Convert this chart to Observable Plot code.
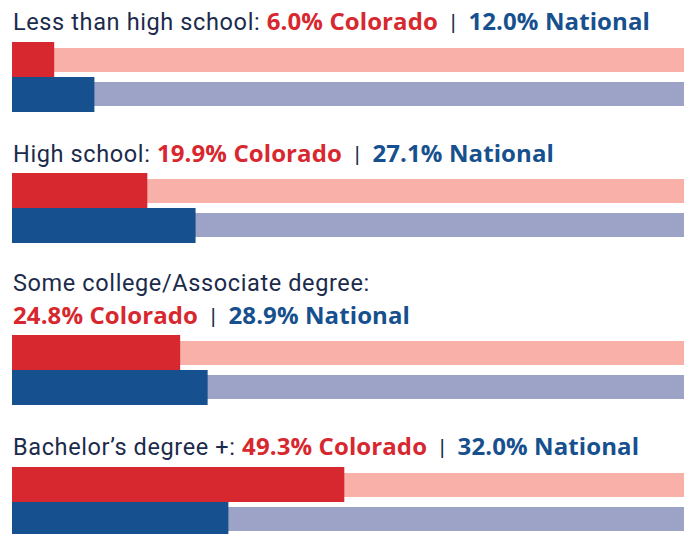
<!DOCTYPE html>
<html>
<head>
<meta charset="utf-8">
<script src="https://cdn.jsdelivr.net/npm/d3@7"></script>
<script src="https://cdn.jsdelivr.net/npm/@observablehq/plot@0.6"></script>
<style>
  html, body { margin: 0; padding: 0; background: #fff; }
  #wrap { position: relative; width: 691px; height: 534px; overflow: hidden; }
  .lbl { position: absolute; left: 13px; width: 678px; font-family: Roboto, sans-serif; font-size: 23.5px; letter-spacing: 0.62px; line-height: 31px; color: #1c2b4b; }
  .val { font-family: "Open Sans", sans-serif; font-weight: 700; font-size: 24px; letter-spacing: 0.1px; white-space: nowrap; }
  .co { color: #d8282f; }
  .na { color: #17508e; }
  .sep { font-family: Roboto, sans-serif; font-weight: 400; font-size: 22px; margin: 0 12.5px; color: #1c2b4b; }
  .chart { position: absolute; left: 0; }
</style>
</head>
<body>
<div id="wrap"></div>
<script>
const categories = ["Less than high school", "High school", "Some college/Associate degree", "Bachelor’s degree +"];
const colorado = [6.0, 19.9, 24.8, 49.3];
const national = [12.0, 27.1, 28.9, 32.0];
const seriesNames = ["Colorado", "National"];

const labelTops = [5, 137, 268, 430];
const chartTops = [42, 173, 335, 467];

const wrap = document.getElementById("wrap");

categories.forEach((cat, i) => {
  const lbl = document.createElement("div");
  lbl.className = "lbl";
  lbl.style.top = labelTops[i] + "px";
  lbl.innerHTML = `${cat}: <span class="val"><span class="co">${colorado[i].toFixed(1)}% Colorado</span><span class="sep">|</span><span class="na">${national[i].toFixed(1)}% National</span></span>`;
  wrap.appendChild(lbl);

  const rows = [
    {series: "Colorado", value: colorado[i]},
    {series: "National", value: national[i]}
  ];
  const chart = Plot.plot({
    width: 691,
    height: 70,
    marginLeft: 14,
    marginRight: 7,
    marginTop: 0,
    marginBottom: 0,
    x: {domain: [0, 100], axis: null},
    y: {domain: seriesNames, axis: null, padding: 0},
    color: {domain: seriesNames, range: ["#d8282f", "#17508e"]},
    marks: [
      Plot.barX(rows.filter(d => d.series === "Colorado"), {x1: 0, x2: 100, y: "series", fill: "#f8b0a8", insetTop: 6, insetBottom: 5, insetLeft: -2}),
      Plot.barX(rows.filter(d => d.series === "National"), {x1: 0, x2: 100, y: "series", fill: "#9ca3c6", insetTop: 5, insetBottom: 6, insetLeft: -2}),
      Plot.barX(rows, {x1: 0, x2: "value", y: "series", fill: "series", insetLeft: -2})
    ]
  });
  chart.classList.add("chart");
  chart.style.top = chartTops[i] + "px";
  wrap.appendChild(chart);
});
</script>
</body>
</html>
